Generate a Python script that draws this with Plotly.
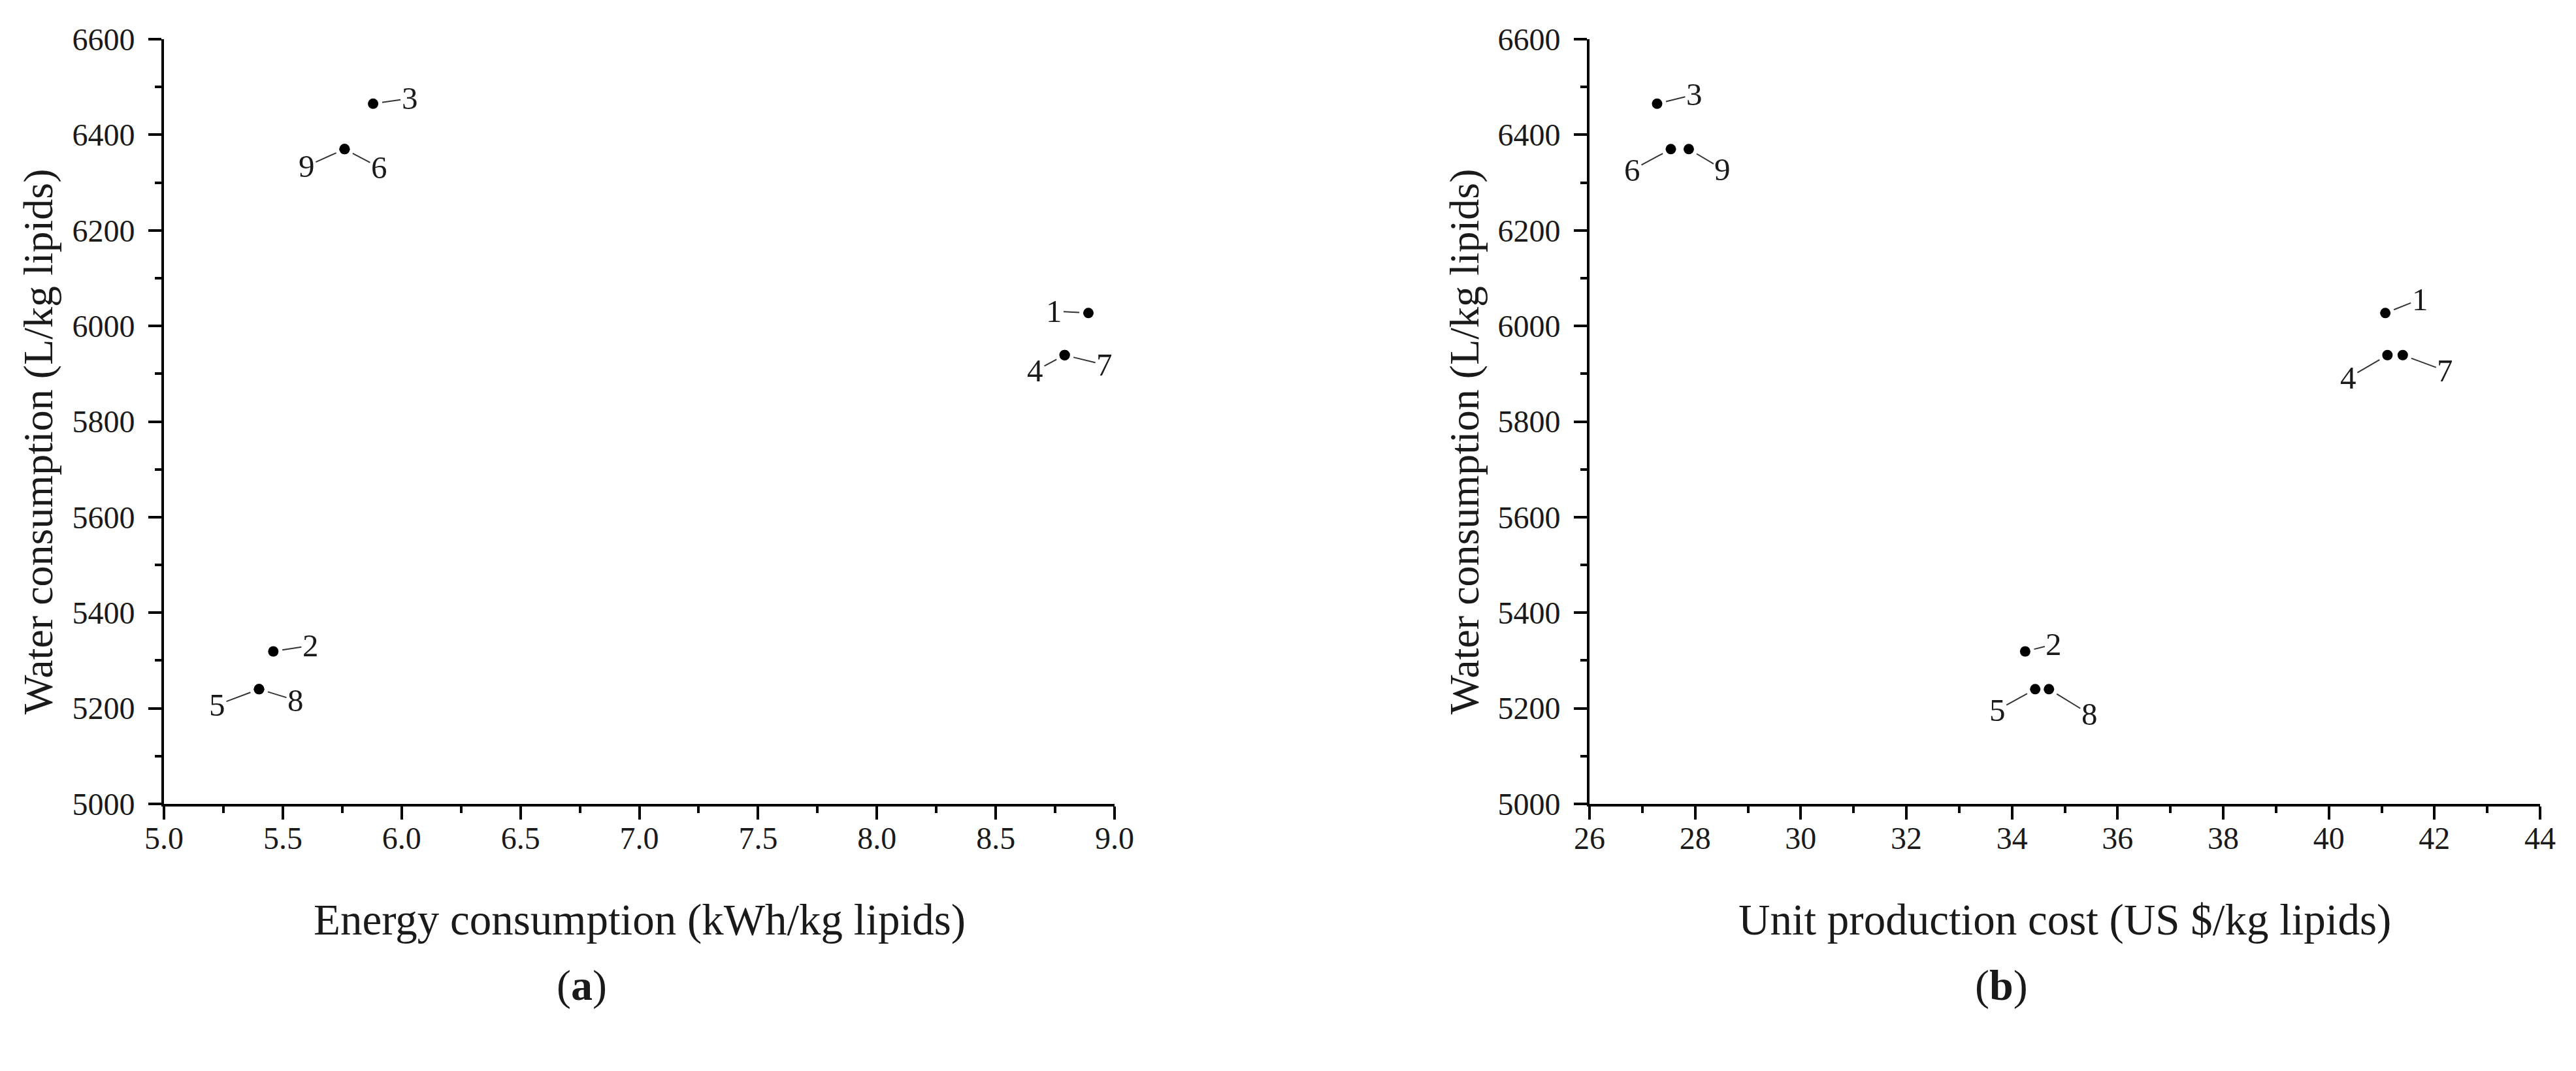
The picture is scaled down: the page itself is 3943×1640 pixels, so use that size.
import plotly.graph_objects as go

# ---- data ----
labels = ["1", "2", "3", "4", "5", "6", "7", "8", "9"]
energy = [8.89, 5.46, 5.88, 8.79, 5.40, 5.76, 8.79, 5.40, 5.76]          # kWh/kg lipids
cost = [41.07, 34.25, 27.28, 41.11, 34.44, 27.54, 41.40, 34.70, 27.88]   # US $/kg lipids
water = [6027, 5319, 6465, 5939, 5240, 6370, 5939, 5240, 6370]          # L/kg lipids

x_ticks_a = [5.0, 5.5, 6.0, 6.5, 7.0, 7.5, 8.0, 8.5, 9.0]
x_ticks_b = [26, 28, 30, 32, 34, 36, 38, 40, 42, 44]
y_ticks = [5000, 5200, 5400, 5600, 5800, 6000, 6200, 6400, 6600]

# label placement offsets (pixels) for the leader-line annotations
offs_a = [(-52, -3), (57, -9), (56, -8), (-45, 24), (-64, 24), (53, 28), (61, 15), (56, 17), (-58, 26)]
offs_b = [(53, -21), (44, -11), (57, -14), (-60, 35), (-58, 32), (-59, 32), (65, 24), (62, 38), (52, 31)]

FONT = "Liberation Serif"
PAGE_OFF = 8                      # default body margin of the html page
W, H = 3943 - PAGE_OFF, 1640 - PAGE_OFF
TXT = "#1a1a1a"


def px(xp):
    return (xp - PAGE_OFF) / W


def py(yp):
    return (H - (yp - PAGE_OFF)) / H


fig = go.Figure()
fig.add_trace(go.Scatter(x=energy, y=water, mode="markers", xaxis="x", yaxis="y",
                         marker=dict(size=16, color="black"), showlegend=False))
fig.add_trace(go.Scatter(x=cost, y=water, mode="markers", xaxis="x2", yaxis="y2",
                         marker=dict(size=16, color="black"), showlegend=False))

annotations = []
for xs, offs, xr, yr in [(energy, offs_a, "x", "y"), (cost, offs_b, "x2", "y2")]:
    for lab, xv, yv, (ox, oy) in zip(labels, xs, water, offs):
        annotations.append(dict(
            x=xv, y=yv, xref=xr, yref=yr, text=lab, showarrow=True,
            arrowhead=0, arrowwidth=2, arrowcolor="#333333", ax=ox, ay=oy,
            standoff=14, font=dict(family=FONT, size=49, color=TXT)))

dom_a = [px(251), px(1706)]
dom_b = [px(2433), px(3888)]
dom_y = [py(1231), py(60)]


def title(text, x, y, size, angle=0):
    return dict(text=text, x=x, y=y, xref="paper", yref="paper", showarrow=False,
                xanchor="center", yanchor="middle", textangle=angle,
                font=dict(family=FONT, size=size, color=TXT))


annotations += [
    title("Energy consumption (kWh/kg lipids)", (dom_a[0] + dom_a[1]) / 2, py(1408), 67),
    title("Unit production cost (US $/kg lipids)", (dom_b[0] + dom_b[1]) / 2, py(1408), 67),
    title("Water consumption (L/kg lipids)", px(58), py(676), 64, -90),
    title("Water consumption (L/kg lipids)", px(2241), py(676), 64, -90),
    title("(<b>a</b>)", px(890), py(1509), 66),
    title("(<b>b</b>)", px(3063), py(1509), 66),
]

axis_common = dict(showline=True, linewidth=4, linecolor="black", ticks="outside",
                   ticklen=20, tickwidth=4, tickcolor="black", showgrid=False, zeroline=False,
                   tickfont=dict(family=FONT, size=48, color=TXT), mirror=False, automargin=False)

minor_common = dict(ticks="outside", ticklen=10, tickwidth=4, tickcolor="black")

fig.update_layout(
    width=W, height=H, paper_bgcolor="white", plot_bgcolor="white",
    margin=dict(l=0, r=0, t=0, b=0, autoexpand=False),
    xaxis=dict(domain=dom_a, range=[5, 9], tickvals=x_ticks_a,
               ticktext=[f"{v:.1f}" for v in x_ticks_a], anchor="y",
               minor=dict(dtick=0.25, tick0=5, **minor_common),
               ticklabelstandoff=-13, **axis_common),
    yaxis=dict(domain=dom_y, range=[5000, 6600], tickvals=y_ticks, anchor="x",
               minor=dict(dtick=100, tick0=5000, **minor_common),
               ticklabelstandoff=11, **axis_common),
    xaxis2=dict(domain=dom_b, range=[26, 44], tickvals=x_ticks_b, anchor="y2",
                minor=dict(dtick=1, tick0=26, **minor_common),
                ticklabelstandoff=-13, **axis_common),
    yaxis2=dict(domain=dom_y, range=[5000, 6600], tickvals=y_ticks, anchor="x2",
                minor=dict(dtick=100, tick0=5000, **minor_common),
                ticklabelstandoff=11, **axis_common),
    annotations=annotations,
)

fig.write_html("out.html")
